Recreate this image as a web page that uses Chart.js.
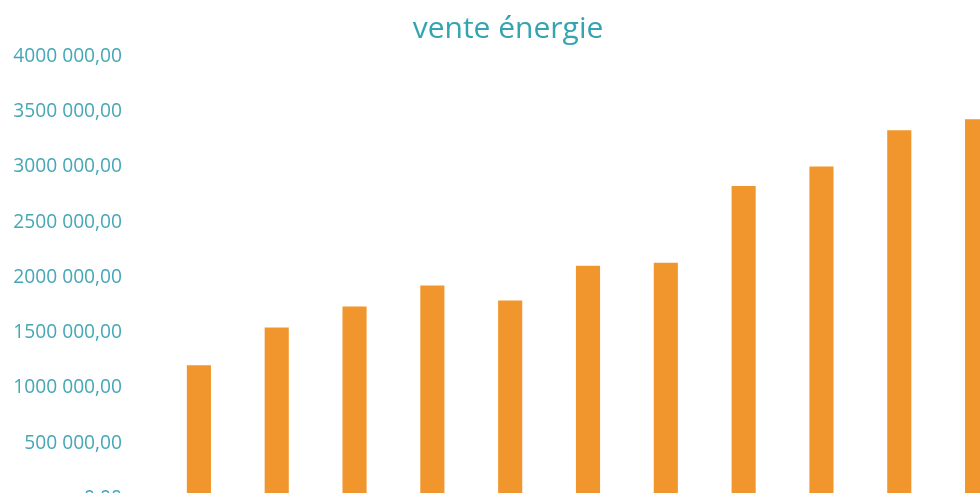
<!DOCTYPE html>
<html>
<head>
<meta charset="utf-8">
<script src="https://cdn.jsdelivr.net/npm/chart.js@4"></script>
<style>
  html, body { margin: 0; padding: 0; background: #fff; overflow: hidden; }
  /* the picture is a crop: the chart runs past the right and bottom edges */
  #frame { position: relative; width: 980px; height: 493px; overflow: hidden; }
  #venteChart { position: absolute; left: 0; top: 0; display: block; }
</style>
</head>
<body>
<div id="frame"><canvas id="venteChart" width="1016" height="530"></canvas></div>
<script>
// Chart data (x axis is cropped out of the picture)
const categories = ['2010', '2011', '2012', '2013', '2014', '2015', '2016', '2017', '2018', '2019', '2020']
const venteValues = [1205000, 1548000, 1737000, 1927000, 1792000, 2107000, 2134000, 2829000, 3004000, 3332000, 3431000]
const yTicks = [0, 500000, 1000000, 1500000, 2000000, 2500000, 3000000, 3500000, 4000000]

const teal = '#45a7b6'

function formatFr(value) {
  // "4000 000,00" style : only the last thousands group is separated
  const s = String(Math.round(value))
  let txt = s
  if (s.length > 3) txt = s.slice(0, s.length - 3) + ' ' + s.slice(-3)
  return txt + ',00'
}

const ctx = document.getElementById('venteChart').getContext('2d')

new Chart(ctx, {
  type: 'bar',
  data: {
    labels: categories,
    datasets: [
      {
        label: 'vente énergie',
        data: venteValues,
        backgroundColor: '#f1962d',
        categoryPercentage: 1,
        barPercentage: 0.31
      }
    ]
  },
  options: {
    responsive: false,
    animation: false,
    layout: {
      padding: { top: 0, left: 0, right: 0, bottom: 31.5 }
    },
    plugins: {
      legend: { display: false },
      tooltip: { enabled: false },
      title: {
        display: true,
        text: 'vente énergie',
        color: '#34a4af',
        font: { family: 'Open Sans', size: 30, weight: 'normal' },
        padding: { top: 11.5, bottom: 9 }
      }
    },
    scales: {
      x: {
        display: false
      },
      y: {
        min: 0,
        max: 4000000,
        afterBuildTicks: (axis) => {
          axis.ticks = yTicks.map((v) => ({ value: v }))
        },
        afterFit: (axis) => {
          axis.width = 160
          axis.paddingTop = 0
          axis.paddingBottom = 0
        },
        border: { display: false },
        grid: { display: false, drawTicks: false },
        ticks: {
          color: teal,
          padding: 38,
          font: { family: 'Open Sans', size: 19.2 },
          callback: (value) => formatFr(value)
        }
      }
    }
  }
})
</script>
</body>
</html>
